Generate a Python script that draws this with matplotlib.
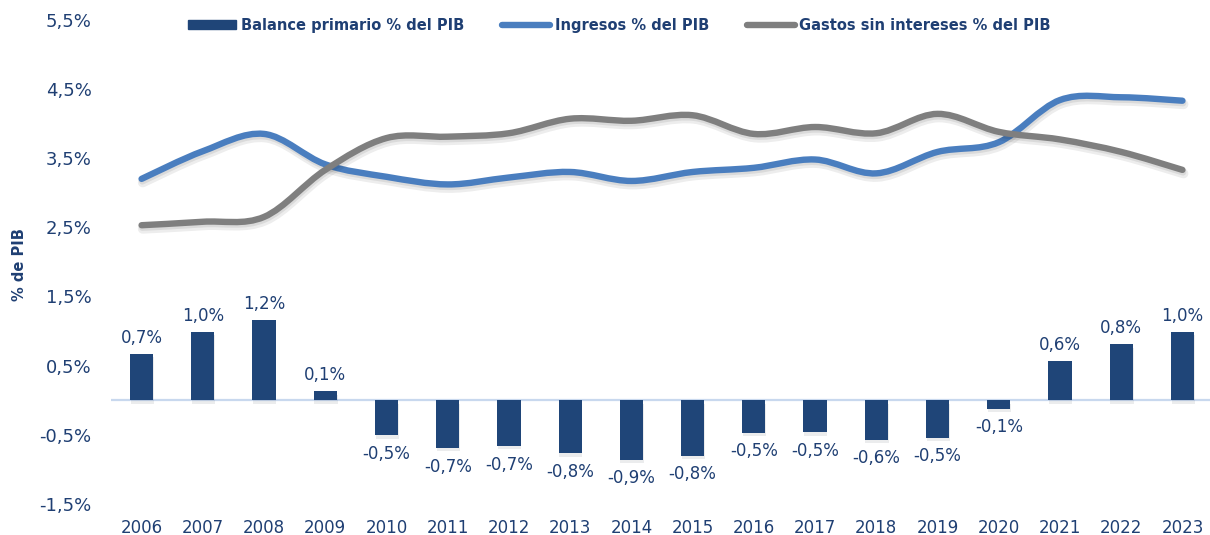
import numpy as np
import matplotlib.pyplot as plt
from matplotlib.path import Path
from matplotlib.patches import PathPatch, Patch
from matplotlib.lines import Line2D
import matplotlib.patheffects as pe

# data
years = ['2006', '2007', '2008', '2009', '2010', '2011', '2012', '2013', '2014',
         '2015', '2016', '2017', '2018', '2019', '2020', '2021', '2022', '2023']
balance = [0.67, 0.99, 1.16, 0.13, -0.51, -0.69, -0.66, -0.77, -0.86,
           -0.80, -0.47, -0.46, -0.57, -0.54, -0.12, 0.57, 0.81, 0.99]
ingresos = [3.20, 3.60, 3.85, 3.41, 3.23, 3.12, 3.22, 3.30, 3.17,
            3.30, 3.36, 3.48, 3.28, 3.59, 3.73, 4.34, 4.38, 4.33]
gastos = [2.53, 2.58, 2.65, 3.33, 3.79, 3.81, 3.86, 4.07, 4.04,
          4.12, 3.85, 3.95, 3.86, 4.14, 3.88, 3.77, 3.59, 3.33]
yticks = [-1.5, -0.5, 0.5, 1.5, 2.5, 3.5, 4.5, 5.5]

navy = '#1F4578'
blue = '#4A7EBF'
grey = '#7F7F7F'
txt = '#1F3F73'

plt.rcParams['font.family'] = ['DejaVu Sans']


def smooth_path(xs, ys):
    # cubic bezier through the points (Excel-style smoothed line)
    pts = np.column_stack([xs, ys]).astype(float)
    n = len(pts)
    verts = [pts[0]]
    codes = [Path.MOVETO]
    for i in range(n - 1):
        p0 = pts[max(i - 1, 0)]
        p1 = pts[i]
        p2 = pts[i + 1]
        p3 = pts[min(i + 2, n - 1)]
        verts += [p1 + (p2 - p0) / 6, p2 - (p3 - p1) / 6, p2]
        codes += [Path.CURVE4] * 3
    return Path(verts, codes)


fig = plt.figure(figsize=(12.1, 5.35), dpi=100)
ax = fig.add_axes([0.0917, 0.058, 0.9083, 0.905])

x = np.arange(len(years))
shadow = [pe.SimpleLineShadow(offset=(0.8, -2.6), alpha=0.07, shadow_color='k', linewidth=7),
          pe.SimpleLineShadow(offset=(0.5, -1.8), alpha=0.08, shadow_color='k'),
          pe.Normal()]

ax.axhline(0, color='#C8D8EE', lw=1.6, zorder=1)
bars = ax.bar(x, balance, width=0.38, color=navy, zorder=2)
for b in bars:
    b.set_path_effects([pe.SimplePatchShadow(offset=(0.5, -2.5), alpha=0.08), pe.Normal()])

for xi, v in zip(x, balance):
    lab = ('%.1f%%' % v).replace('.', ',')
    if v >= 0:
        ax.annotate(lab, (xi, v), xytext=(0, 5), textcoords='offset points',
                    ha='center', va='bottom', fontsize=12, color=txt)
    else:
        ax.annotate(lab, (xi, v), xytext=(0, -7), textcoords='offset points',
                    ha='center', va='top', fontsize=12, color=txt)

for vals, col in [(ingresos, blue), (gastos, grey)]:
    pp = PathPatch(smooth_path(x, vals), fill=False, edgecolor=col, lw=4.6,
                   capstyle='round', joinstyle='round', zorder=3)
    pp.set_path_effects(shadow)
    ax.add_patch(pp)

ax.set_xlim(-0.5, 17.45)
ax.set_ylim(-1.5, 5.5)
ax.set_xticks(x)
ax.set_xticklabels(years, fontsize=12, color=txt)
ax.set_yticks(yticks)
ax.set_yticklabels([('%.1f%%' % t).replace('.', ',') for t in yticks], fontsize=13, color=txt)
ax.tick_params(axis='both', length=0)
ax.tick_params(axis='y', pad=14)
ax.tick_params(axis='x', pad=11)
for s in ax.spines.values():
    s.set_visible(False)

fig.text(0.016, 0.505, '% de PIB', rotation=90, ha='center', va='center',
         fontsize=10.5, fontweight='bold', color=txt)

handles = [Patch(color=navy),
           Line2D([], [], color=blue, lw=4.6, solid_capstyle='round'),
           Line2D([], [], color=grey, lw=4.6, solid_capstyle='round')]
labels = ['Balance primario % del PIB', 'Ingresos % del PIB', 'Gastos sin intereses % del PIB']
leg = fig.legend(handles, labels, loc='center', bbox_to_anchor=(0.512, 0.953), ncol=3,
                 frameon=False, handlelength=3.3, handleheight=0.55, handletextpad=0.3,
                 columnspacing=2.6, prop={'size': 10.5, 'weight': 'bold'})
for t in leg.get_texts():
    t.set_color(txt)

fig.savefig('out.png', dpi=100)
